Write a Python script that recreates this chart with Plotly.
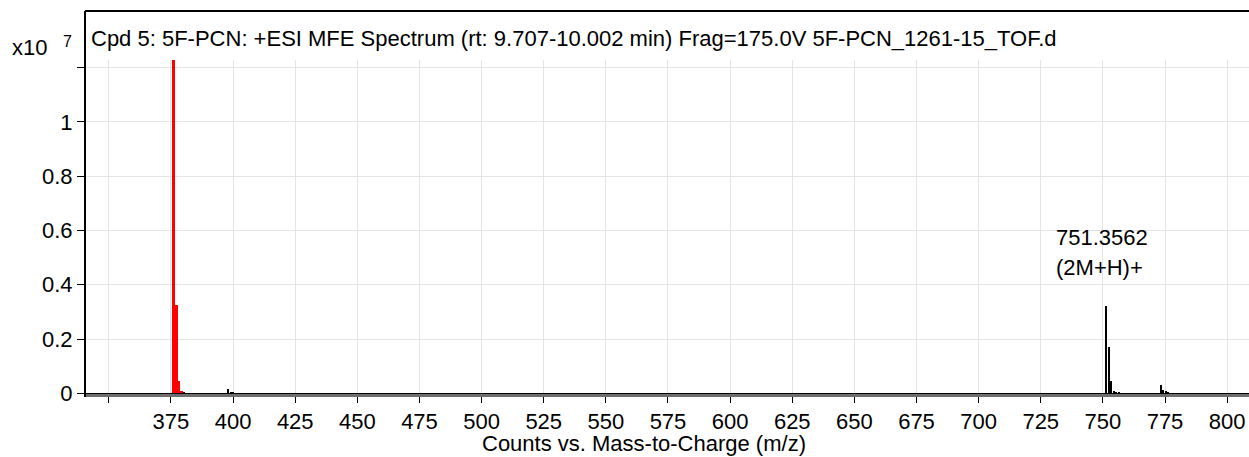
import plotly.graph_objects as go

# m/z values and intensities (x10^7 counts)
red_mz = [376.18, 377.18, 378.18, 379.19]
red_int = [1.30, 0.325, 0.045, 0.010]

black_mz = [380.2, 398.16, 399.17, 400.17, 751.356, 752.36, 753.36, 754.37,
            755.37, 756.37, 773.34, 774.34, 775.35, 776.35]
black_int = [0.004, 0.017, 0.006, 0.002, 0.32, 0.17, 0.045, 0.010,
             0.006, 0.005, 0.032, 0.013, 0.008, 0.004]

x_ticks = [350, 375, 400, 425, 450, 475, 500, 525, 550, 575, 600, 625, 650,
           675, 700, 725, 750, 775, 800]
x_labels = ["", "375", "400", "425", "450", "475", "500", "525", "550", "575",
            "600", "625", "650", "675", "700", "725", "750", "775", "800"]
y_ticks = [0, 0.2, 0.4, 0.6, 0.8, 1.0, 1.2]
y_labels = ["0", "0.2", "0.4", "0.6", "0.8", "1", ""]

title_text = "Cpd 5: 5F-PCN: +ESI MFE Spectrum (rt: 9.707-10.002 min) Frag=175.0V 5F-PCN_1261-15_TOF.d"
peak_label = ["751.3562", "(2M+H)+"]

FONT = "Liberation Sans, Arial, sans-serif"
FS = 22
W, H = 1249, 457
L, R, T, B = 85, 0, 60, 63
pw, ph = W - L - R, H - T - B


def px(xp):
    return (xp - L) / pw


def py(yp):
    return (H - B - yp) / ph


fig = go.Figure()
fig.add_trace(go.Bar(x=black_mz, y=black_int, width=0.45,
                     marker=dict(color="black", line=dict(width=0)),
                     hoverinfo="x+y"))
fig.add_trace(go.Bar(x=red_mz, y=red_int, width=1.25,
                     marker=dict(color="#ff0000", line=dict(width=0)),
                     hoverinfo="x+y"))

fig.update_layout(
    width=W, height=H,
    margin=dict(l=L, r=R, t=T, b=B, pad=0),
    paper_bgcolor="white", plot_bgcolor="white",
    barmode="overlay", bargap=0,
    showlegend=False,
    font=dict(family=FONT, size=FS, color="black"),
    xaxis=dict(range=[340.4, 808.8], tickvals=x_ticks, ticktext=x_labels,
               showgrid=True, gridcolor="#e4e4e4", gridwidth=1,
               showline=True, linecolor="#6e6e6e", linewidth=3,
               ticks="outside", ticklen=6, tickwidth=1, tickcolor="black",
               tickfont=dict(size=FS, family=FONT, color="black"),
               zeroline=False, fixedrange=True),
    yaxis=dict(range=[-0.0026, 1.2285], tickvals=y_ticks, ticktext=y_labels,
               showgrid=True, gridcolor="#e4e4e4", gridwidth=1,
               showline=False,
               ticks="outside", ticklen=7, tickwidth=1, tickcolor="black",
               tickfont=dict(size=FS, family=FONT, color="black"),
               zeroline=True, zerolinecolor="black", zerolinewidth=1,
               fixedrange=True),
)

# frame: top border and left axis line
fig.add_shape(type="line", xref="paper", yref="paper",
              x0=0, x1=1, y0=py(11), y1=py(11),
              line=dict(color="black", width=2))
fig.add_shape(type="line", xref="paper", yref="paper",
              x0=0, x1=0, y0=py(397), y1=py(11),
              line=dict(color="black", width=2))

ann = []
ann.append(dict(text=title_text, xref="paper", yref="paper", x=px(89), y=py(38),
                xanchor="left", yanchor="middle", showarrow=False,
                font=dict(size=FS, family=FONT, color="black")))
ann.append(dict(text="x10", xref="paper", yref="paper", x=px(10), y=py(48),
                xanchor="left", yanchor="middle", showarrow=False,
                font=dict(size=FS, family=FONT, color="black")))
ann.append(dict(text="7", xref="paper", yref="paper", x=px(61), y=py(42),
                xanchor="left", yanchor="middle", showarrow=False,
                font=dict(size=16, family=FONT, color="black")))
ann.append(dict(text="Counts vs. Mass-to-Charge (m/z)", xref="paper", yref="paper",
                x=px(643.5), y=py(443), xanchor="center", yanchor="middle",
                showarrow=False, font=dict(size=FS, family=FONT, color="black")))
ann.append(dict(text=peak_label[0], xref="paper", yref="paper", x=px(1054), y=py(237),
                xanchor="left", yanchor="middle", showarrow=False,
                font=dict(size=FS, family=FONT, color="black")))
ann.append(dict(text=peak_label[1], xref="paper", yref="paper", x=px(1054), y=py(267),
                xanchor="left", yanchor="middle", showarrow=False,
                font=dict(size=FS, family=FONT, color="black")))
fig.update_layout(annotations=ann)

fig.write_html("out.html",
               config={"displayModeBar": False},
               post_script="document.body.style.margin='0';document.body.style.padding='0';")
